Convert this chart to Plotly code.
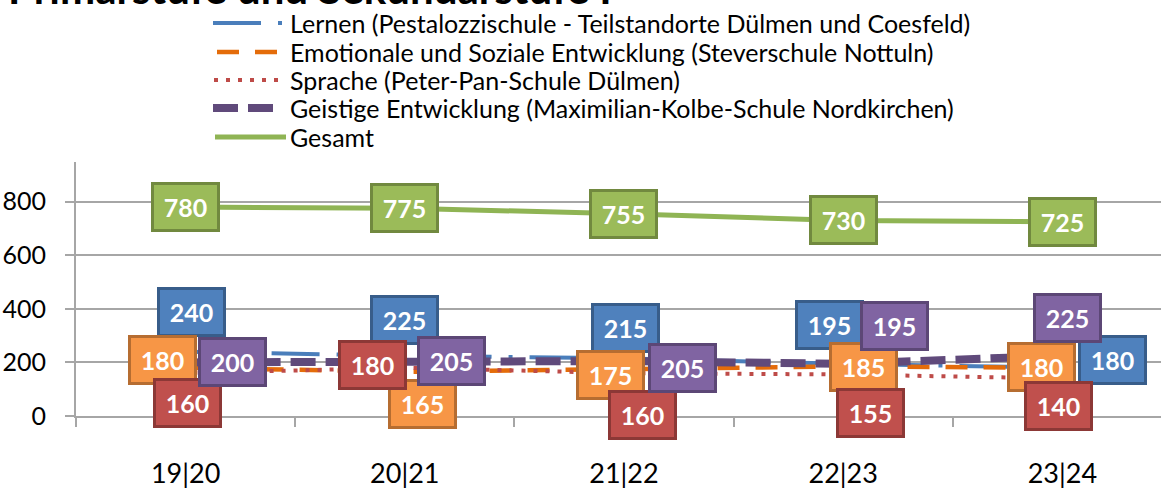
import plotly.graph_objects as go

# school years on the x axis
SCHOOL_YEARS = ["19|20", "20|21", "21|22", "22|23", "23|24"]

# pupils per support focus
LERNEN    = [240, 225, 215, 195, 180]
EMOTIONAL = [180, 165, 175, 185, 180]
SPRACHE   = [160, 180, 160, 155, 140]
GEISTIG   = [200, 205, 205, 195, 225]
GESAMT    = [780, 775, 755, 730, 725]

NAMES = [
    "Lernen (Pestalozzischule - Teilstandorte Dülmen und Coesfeld)",
    "Emotionale und Soziale Entwicklung (Steverschule Nottuln)",
    "Sprache (Peter-Pan-Schule Dülmen)",
    "Geistige Entwicklung (Maximilian-Kolbe-Schule Nordkirchen)",
    "Gesamt",
]
TITLE = "Primarstufe und Sekundarstufe I"

FONT = "Lato"
TEXT = "#000000"
GRID = "#A6A6A6"

# plot area in pixels
W, H = 1161, 488
L, T, B = 76, 162, 72
PW, PH = W - L, H - T - B

# line style / label box style per series
STYLES = [
    dict(line="#4A7EBB", width=4, dash="48px,17px,4px,17px",
         fill="#4F81BD", border="#385D8A"),
    dict(line="#E46C0A", width=4.5, dash="22px,16px",
         fill="#F79646", border="#B66D31"),
    dict(line="#BE4B48", width=4, dash="4px,8px",
         fill="#C0504D", border="#8C3836"),
    dict(line="#604A7B", width=8, dash="25px,10px",
         fill="#8064A2", border="#5C4776"),
    dict(line="#8FB454", width=5, dash="solid",
         fill="#9BBB59", border="#71893F"),
]

# manual nudges of the data labels (xshift, yshift) as placed in the original
NUDGES = [
    [(6, 40), (0, 36), (2, 30), (-14, 39), (50, 8)],
    [(-23, 8), (18, -32), (-13, -6), (20, -1), (-21, 1)],
    [(2, -30), (-32, 3), (19, -42), (27, -39), (-4, -28)],
    [(47, 0), (47, 0), (59, -7), (51, 38), (5, 38)],
    [(0, 0)] * 5,
]

# legend sample geometry (pixels)
LEGEND_ROWS = [23, 52, 80, 108, 137]
LEGEND_SAMPLES = [(213, 287), (217, 277), (214, 280), (213, 274), (215, 286)]
LEGEND_TEXT_X = 288


def px_x(px):
    return (px - L) / PW


def px_y(py):
    return (H - B - py) / PH


series = [LERNEN, EMOTIONAL, SPRACHE, GEISTIG, GESAMT]

fig = go.Figure()
for vals, name, st in zip(series, NAMES, STYLES):
    fig.add_trace(go.Scatter(
        x=SCHOOL_YEARS, y=vals, name=name, mode="lines",
        line=dict(color=st["line"], width=st["width"], dash=st["dash"]),
        hovertemplate=f"{name}<br>%{{x}}: %{{y}}<extra></extra>",
    ))

annotations = []
for vals, st, nudges in zip(series, STYLES, NUDGES):
    for yr, v, (dx, dy) in zip(SCHOOL_YEARS, vals, nudges):
        annotations.append(dict(
            x=yr, y=v, xref="x", yref="y", text=f"<b>{v}</b>",
            showarrow=False, xshift=dx, yshift=dy,
            width=59, height=40, borderpad=2, borderwidth=3,
            bgcolor=st["fill"], bordercolor=st["border"],
            font=dict(family=FONT, size=25, color="white"),
        ))

shapes = []
for row, (x0, x1), name, st in zip(LEGEND_ROWS, LEGEND_SAMPLES, NAMES, STYLES):
    shapes.append(dict(
        type="line", xref="paper", yref="paper",
        x0=px_x(x0), x1=px_x(x1), y0=px_y(row), y1=px_y(row),
        line=dict(color=st["line"], width=st["width"], dash=st["dash"]),
    ))
    annotations.append(dict(
        x=px_x(LEGEND_TEXT_X), y=px_y(row), xref="paper", yref="paper",
        text=name, showarrow=False, xanchor="left", yanchor="middle",
        font=dict(family=FONT, size=25, color=TEXT),
    ))

# title, mostly cut off by the top edge
annotations.append(dict(
    x=px_x(6), y=px_y(15), xref="paper", yref="paper",
    text=f"<b>{TITLE}</b>", showarrow=False, xanchor="left", yanchor="bottom",
    font=dict(family=FONT, size=42, color=TEXT),
))

fig.update_layout(
    width=W, height=H,
    margin=dict(l=L, r=0, t=T, b=B),
    plot_bgcolor="white", paper_bgcolor="white",
    showlegend=False,
    font=dict(family=FONT, color=TEXT),
    annotations=annotations,
    shapes=shapes,
    xaxis=dict(
        type="category", range=[-0.5, 4.45], automargin=False,
        tickson="boundaries", ticks="outside", ticklen=9, tickwidth=2,
        tickcolor=GRID, showline=True, linecolor=GRID, linewidth=2,
        showgrid=False, ticklabelstandoff=33,
        tickfont=dict(family=FONT, size=27, color=TEXT),
    ),
    yaxis=dict(
        range=[0, 948], tickvals=[0, 200, 400, 600, 800], automargin=False,
        ticks="outside", ticklen=9, tickwidth=2, tickcolor=GRID,
        showline=True, linecolor=GRID, linewidth=2,
        showgrid=True, gridcolor=GRID, gridwidth=2, zeroline=False,
        ticklabelstandoff=14,
        tickfont=dict(family=FONT, size=25, color=TEXT),
    ),
)

# drop the page's default body margin so the chart sits at the window corner
fig.write_html(
    "out.html",
    config={"displayModeBar": False},
    post_script="document.body.style.margin='0';",
)
